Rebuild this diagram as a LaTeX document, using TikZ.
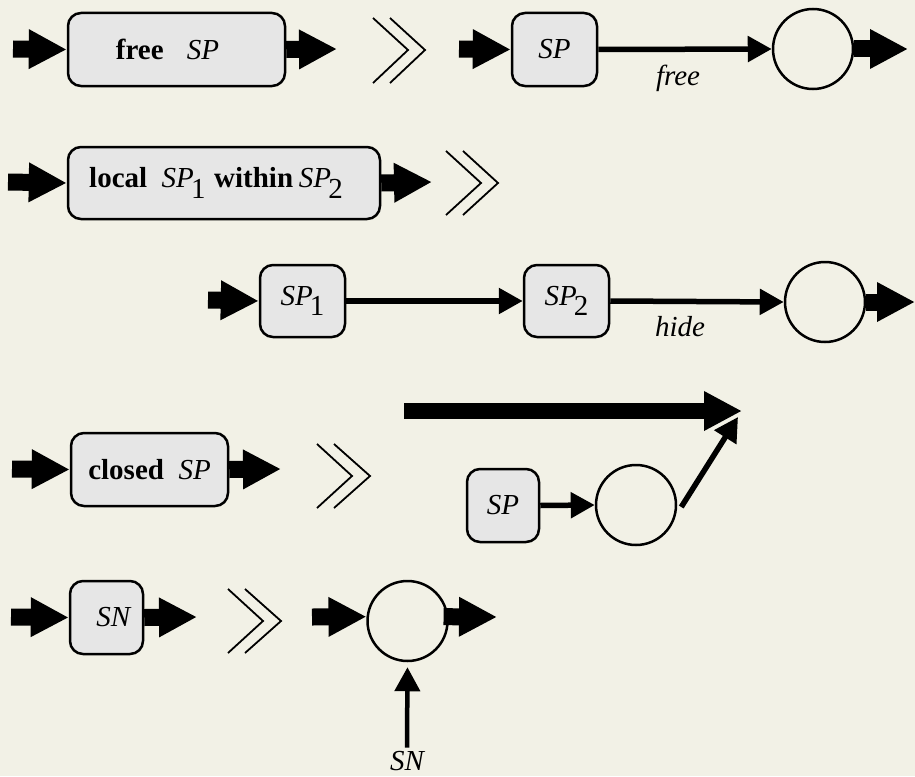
\documentclass[tikz,border=0pt]{standalone}
\usepackage{fontspec}
\setmainfont{Liberation Serif}
\usetikzlibrary{arrows.meta,calc}
\definecolor{bgcol}{HTML}{F2F1E6}
\definecolor{boxfill}{HTML}{E6E6E6}
\newcommand{\spsub}[1]{\textit{SP}\kern-0.1em\raisebox{-0.36em}{#1}}
\begin{document}
\begin{tikzpicture}[x=1pt,y=-1pt,
  font=\fontsize{29}{33}\selectfont,
  procbox/.style={draw=black, line width=2.5pt, fill=boxfill, rounded corners=13pt, inner sep=0pt, minimum height=73pt},
  statecirc/.style={draw=black, line width=2.5pt, circle, minimum size=80pt, inner sep=0pt},
  fat/.style={line width=17pt, -{Triangle[length=38pt,width=37pt]}},
  thinarr/.style={line width=5.5pt, -{Triangle[length=24pt,width=25pt]}},
  chev/.style={line width=1.8pt},
  lbl/.style={font=\fontsize{29}{33}\selectfont\itshape, inner sep=0pt}
]
\fill[bgcol] (0,0) rectangle (915,776);
\useasboundingbox (0,0) rectangle (915,776);

% ---------- Row 1 ----------
\node[procbox, minimum width=217pt] (b1) at (176.5,49.5) {\textbf{free}\hspace{0.8em}\textit{SP}\hspace*{18pt}};
\coordinate (b1in) at (13,49);
\coordinate (b1out) at (337,49);
\draw[fat] (b1in) -- (b1.west);
\draw[fat] (b1.east) -- (b1out);
\draw[chev] (373,18) -- (408,50) -- (373,83);
\draw[chev] (390,18) -- (425,50) -- (390,83);

\node[procbox, minimum width=85pt] (s1) at (554.5,49.5) {\textit{SP}};
\node[statecirc] (c1) at (813,49) {};
\coordinate (s1in) at (459,49);
\coordinate (c1out) at (908,49);
\draw[fat] (s1in) -- (s1.west);
\draw[thinarr] (s1.east) -- (c1.west);
\node[lbl] (lfree) at (678,78) {free};
\draw[fat] (c1.east) -- (c1out);

% ---------- Row 2 ----------
\node[procbox, minimum width=312pt, minimum height=72pt] (b2) at (224,183)
  {\textbf{local}\hspace{0.5em}\spsub{1}\hspace{0.3em}\textbf{within}\hspace{0.2em}\spsub{2}\hspace*{16pt}};
\coordinate (b2in) at (8,182);
\coordinate (b2out) at (432,182);
\draw[fat] (b2in) -- (b2.west);
\draw[fat] (b2.east) -- (b2out);
\draw[chev] (446,151) -- (481,183) -- (446,215);
\draw[chev] (463,151) -- (498,183) -- (463,215);

% ---------- Row 3 ----------
\node[procbox, minimum width=85pt, minimum height=72pt] (p1) at (302.5,301) {\spsub{1}};
\node[procbox, minimum width=85pt, minimum height=72pt] (p2) at (566.5,301) {\spsub{2}};
\node[statecirc] (c3) at (825,302) {};
\coordinate (p1in) at (208,300);
\coordinate (c3out) at (915,302);
\draw[fat] (p1in) -- (p1.west);
\draw[thinarr] (p1.east) -- (p2.west);
\draw[thinarr] (p2.east) -- (c3.west);
\node[lbl] (lhide) at (680,327) {hide};
\draw[fat] (c3.east) -- (c3out);

% ---------- Row 4 ----------
\node[procbox, minimum width=157pt] (b4) at (149.5,469.5) {\textbf{closed}\hspace{0.5em}\textit{SP}};
\coordinate (b4in) at (12,469);
\coordinate (b4out) at (281,469);
\draw[fat] (b4in) -- (b4.west);
\draw[fat] (b4.east) -- (b4out);
\draw[chev] (317,444) -- (352,476) -- (317,508);
\draw[chev] (334,444) -- (370,476) -- (334,508);

\coordinate (bigs) at (404,411);
\coordinate (bige) at (742,411);
\draw[fat, line width=16pt] (bigs) -- (bige);
\node[procbox, minimum width=72pt] (q4) at (503,505.5) {\textit{SP}};
\node[statecirc] (c4) at (636,505) {};
\coordinate (t4) at (738,417);
\draw[thinarr] (q4.east) -- (c4.west);
\draw[thinarr] ($(c4.east)+(4,2)$) -- (t4);

% ---------- Row 5 ----------
\node[procbox, minimum width=73pt] (n5) at (106.5,617.5) {\hspace*{15pt}\textit{SN}};
\coordinate (n5in) at (11,617);
\coordinate (n5out) at (197,617);
\draw[fat] (n5in) -- (n5.west);
\draw[fat] (n5.east) -- (n5out);
\draw[chev] (228,589) -- (263,621) -- (228,653);
\draw[chev] (245,589) -- (281,621) -- (245,653);

\node[statecirc] (c5) at (407.5,621) {};
\coordinate (c5in) at (312,617);
\coordinate (c5out) at (497,617);
\draw[fat] (c5in) -- (c5.174);
\draw[fat] ($(c5.6)+(-5,0)$) -- (c5out);
\node[lbl] (snl) at (407,761) {SN};
\draw[thinarr, line width=4.5pt, shorten <=3.5pt, shorten >=5pt] (snl.north) -- (c5.south);
\end{tikzpicture}
\end{document}
